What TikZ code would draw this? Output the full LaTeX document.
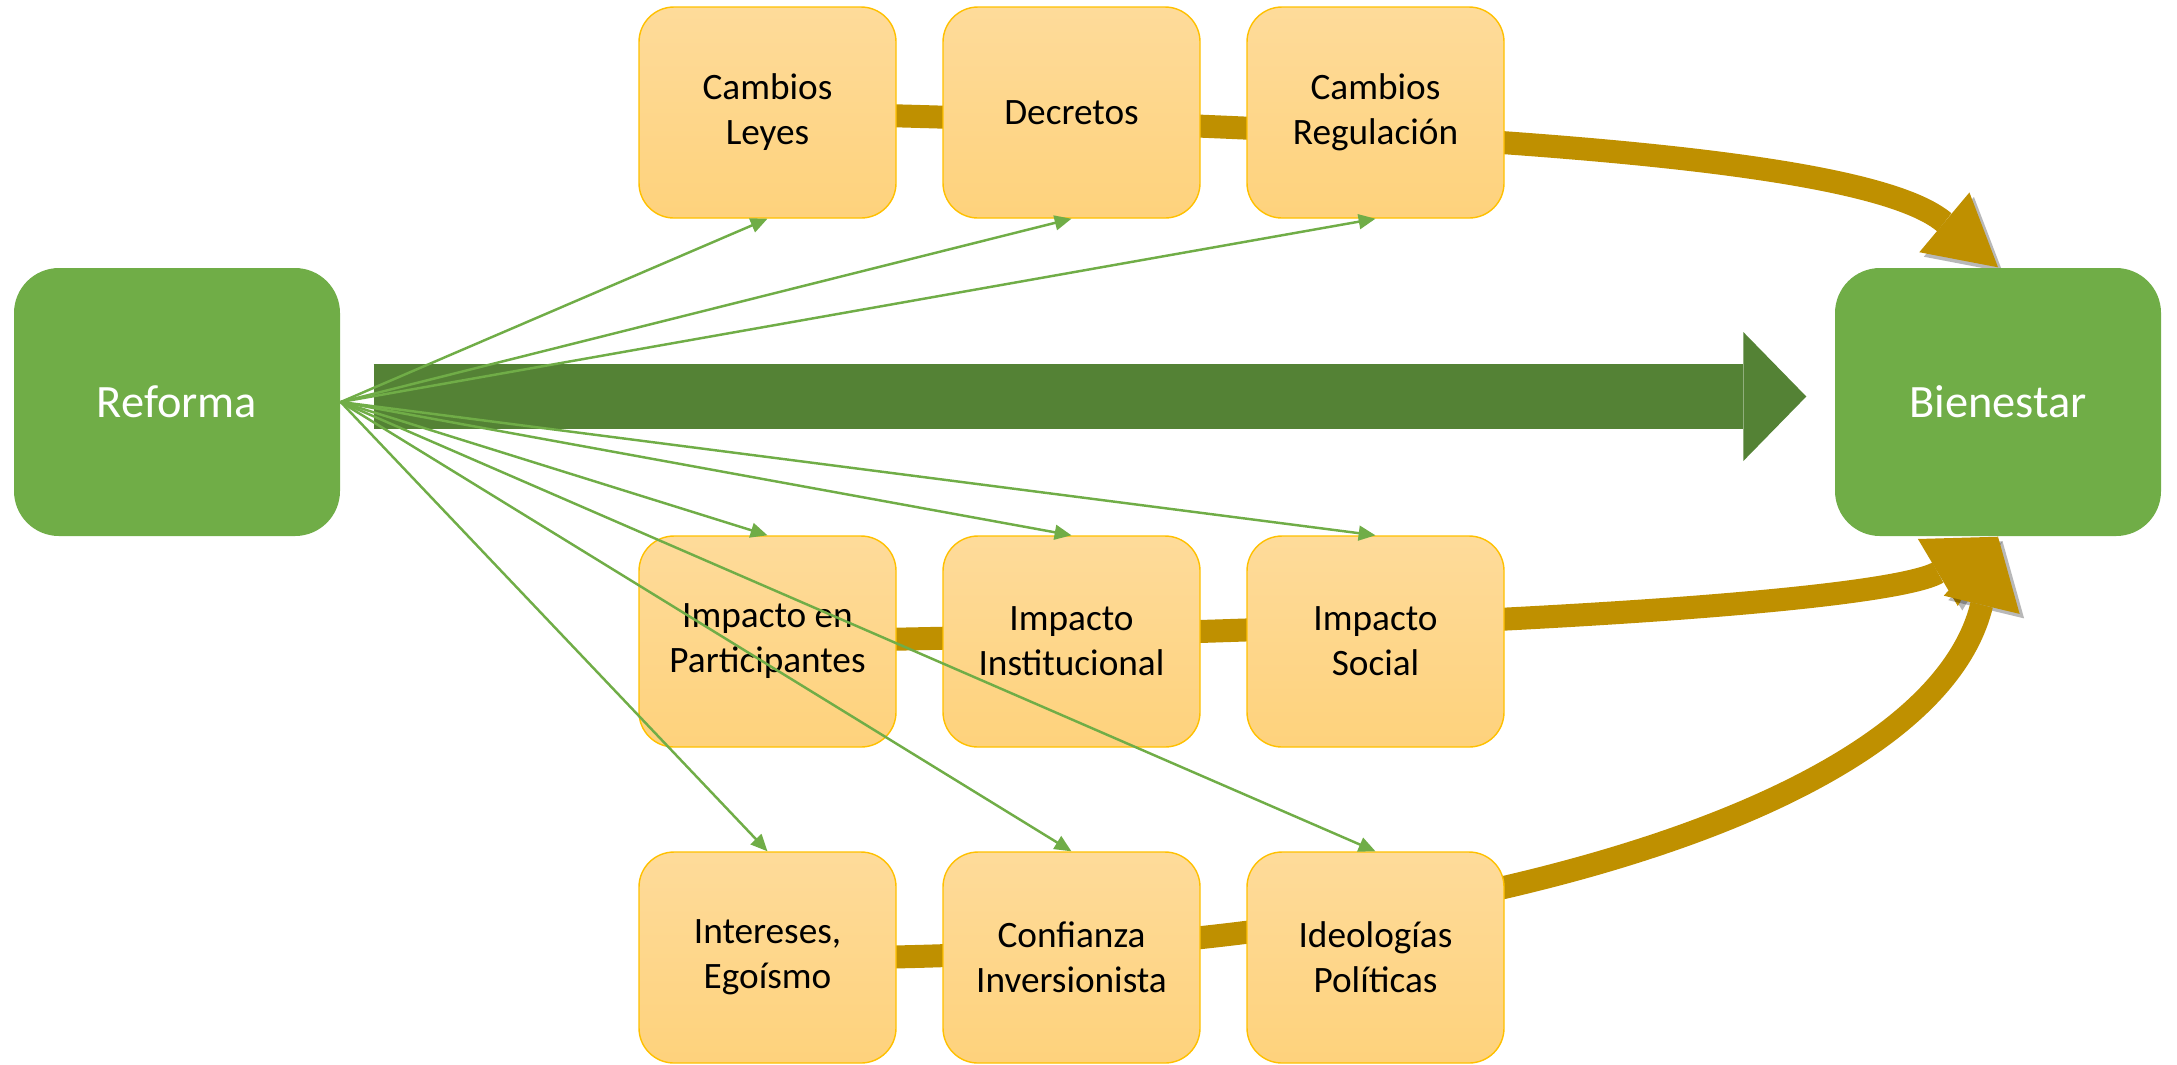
\documentclass[tikz,border=0pt]{standalone}
\usepackage{fontspec}
\setmainfont{Carlito}
\usetikzlibrary{arrows.meta, backgrounds}

\definecolor{leafgreen}{HTML}{70AD47}
\definecolor{darkleaf}{HTML}{548235}
\definecolor{mustard}{HTML}{BF9000}
\definecolor{boxedge}{HTML}{FFC000}
\definecolor{boxtop}{HTML}{FEDB9A}
\definecolor{boxbottom}{HTML}{FED27C}

\tikzset{
  greenbox/.style={fill=leafgreen, text=white, rounded corners=0.45cm,
    minimum width=3.26cm, minimum height=2.68cm,
    font=\fontsize{13.2}{16}\selectfont},
  factor/.style={draw=boxedge, line width=0.4pt, top color=boxtop,
    bottom color=boxbottom, rounded corners=0.35cm, minimum width=2.57cm,
    minimum height=2.11cm, align=center, font=\fontsize{10.6}{12.8}\selectfont},
  link/.style={leafgreen, line width=0.7pt, -{Triangle[length=4.8pt,width=4.2pt]}},
  flow/.style={mustard, line width=0.23cm,
    -{Triangle[length=0.7cm,width=0.78cm,line width=0pt]},
    preaction={draw=black, opacity=0.28, transform canvas={shift={(0.045,-0.045)}}}},
}

\begin{document}
\begin{tikzpicture}
  \useasboundingbox (0,0) rectangle (21.77,-10.64);
  % start and goal
  \node[greenbox] (reforma) at (1.77,-4.02) {Reforma};
  \node[greenbox] (bienestar) at (19.98,-4.02) {Bienestar};
  % legal channel
  \node[factor] (leyes) at (7.675,-1.125) {Cambios\\Leyes};
  \node[factor] (decretos) at (10.715,-1.125) {Decretos};
  \node[factor] (regul) at (13.755,-1.125) {Cambios\\Regulación};
  % impact channel
  \node[factor] (part) at (7.675,-6.415) {Impacto en\\Participantes};
  \node[factor] (inst) at (10.715,-6.415) {Impacto\\Institucional};
  \node[factor] (social) at (13.755,-6.415) {Impacto\\Social};
  % political channel
  \node[factor] (intereses) at (7.675,-9.575) {Intereses,\\Egoísmo};
  \node[factor] (confianza) at (10.715,-9.575) {Confianza\\Inversionista};
  \node[factor] (ideol) at (13.755,-9.575) {Ideologías\\Políticas};

  % curved channels run behind the boxes
  \begin{pgfonlayer}{background}
    \draw[flow] (leyes.center) .. controls (15.0,-1.30) and (18.70,-1.60) .. (bienestar.north);
    \draw[flow] (part.center) .. controls (16.0,-6.28) and (19.0,-5.95) .. (bienestar.south);
    \draw[flow] (intereses.center) .. controls (14.0,-9.65) and (19.30,-8.20) .. (bienestar.south);
  \end{pgfonlayer}

  % direct effect
  \draw[darkleaf, line width=0.65cm, -{Triangle[length=0.63cm,width=1.29cm,line width=0pt]}]
    ([shift={(0.33,0.055)}]reforma.east) -- ([shift={(-0.28,0.055)}]bienestar.west);

  % reform feeds every factor
  \foreach \f in {leyes, decretos, regul}{
    \draw[link] (reforma.east) -- (\f.south);
  }
  \foreach \f in {part, inst, social, intereses, confianza, ideol}{
    \draw[link] (reforma.east) -- (\f.north);
  }
\end{tikzpicture}
\end{document}
